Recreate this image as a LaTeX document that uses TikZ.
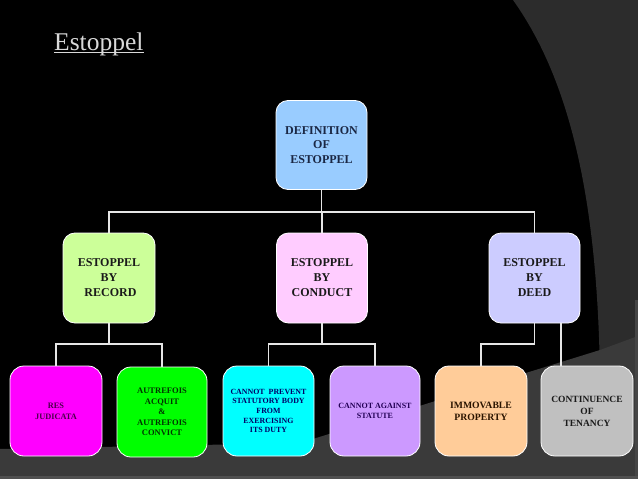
\documentclass[tikz,border=0pt]{standalone}
\usepackage{fontspec}
\setmainfont{Liberation Serif}
\definecolor{bandgray}{HTML}{3A3A3A}
\definecolor{rightgray}{HTML}{2C2C2C}
\definecolor{stripgray}{HTML}{454545}
\definecolor{bottomgray}{HTML}{505050}
\definecolor{titlegray}{HTML}{D9D9D9}
\definecolor{linegray}{HTML}{E6E6E6}
\definecolor{defblue}{HTML}{99CCFF}
\definecolor{recgreen}{HTML}{CCFF99}
\definecolor{conpink}{HTML}{FFCCFF}
\definecolor{deedblue}{HTML}{CCCCFF}
\definecolor{resmag}{HTML}{FF00FF}
\definecolor{autgreen}{HTML}{00FF00}
\definecolor{prevcyan}{HTML}{00FFFF}
\definecolor{statpurple}{HTML}{CC99FF}
\definecolor{immorange}{HTML}{FFCC99}
\definecolor{contgray}{HTML}{C0C0C0}
\definecolor{navytext}{HTML}{1A2744}
\definecolor{darktext}{HTML}{1A1A1A}
\definecolor{restext}{HTML}{4A004A}
\definecolor{auttext}{HTML}{003300}
\definecolor{prevtext}{HTML}{000066}
\definecolor{stattext}{HTML}{220055}
\definecolor{immtext}{HTML}{2A1400}
\tikzset{
  nbox/.style={draw=white, line width=0.8pt, rounded corners=12pt,
    minimum width=91pt, minimum height=89pt, align=center, inner sep=1pt},
  lvtwo/.style={nbox, font=\bfseries\fontsize{12}{15}\selectfont},
  lvthree/.style={nbox, minimum width=92pt, minimum height=90pt, rounded corners=14pt,
    font=\bfseries\fontsize{8}{10.2}\selectfont},
  conn/.style={draw=linegray, line width=1.8pt},
}
\begin{document}
\begin{tikzpicture}[x=1pt,y=-1pt]
\useasboundingbox (0,0) rectangle (638,479);
% background
\fill[black] (0,0) rectangle (638,479);
\fill[rightgray] (513,0) .. controls (570,80) and (598,200) .. (600,380) -- (600,479) -- (638,479) -- (638,0) -- cycle;
\fill[bandgray] (0,449) -- (300,443) -- (600,350) -- (638,336) -- (638,479) -- (0,479) -- cycle;
\fill[stripgray] (635,300) rectangle (638,479);
\fill[bottomgray] (0,476) rectangle (638,479);
% title
\node[anchor=base west, inner sep=0pt, text=titlegray, font=\fontsize{25.5}{30}\selectfont] (title) at (54,50) {Estoppel};
\draw[titlegray, line width=1.3pt] ([yshift=-2.5pt]title.base west) -- ([yshift=-2.5pt]title.base east);
% level 1
\node[lvtwo, fill=defblue, text=navytext, font=\bfseries\fontsize{12}{14.5}\selectfont] (def) at (321.5,145) {DEFINITION\\OF\\ESTOPPEL};
% level 2
\node[lvtwo, fill=recgreen, text=darktext, minimum width=92pt, minimum height=90pt] (rec) at (109,278) {ESTOPPEL\\BY\\\hspace*{3pt}RECORD};
\node[lvtwo, fill=conpink, text=darktext, minimum height=90pt] (con) at (322,278) {ESTOPPEL\\BY\\CONDUCT};
\node[lvtwo, fill=deedblue, text=darktext, minimum height=90pt] (deed) at (534.5,278) {ESTOPPEL\\BY\\DEED};
% level 3
\node[lvthree, fill=resmag, text=restext, font=\bfseries\fontsize{8.3}{11}\selectfont] (res) at (56,411) {RES\\JUDICATA};
\node[lvthree, fill=autgreen, text=auttext, minimum width=90pt, font=\bfseries\fontsize{8.5}{10.4}\selectfont] (aut) at (162,412) {AUTREFOIS\\ACQUIT\\\&\\AUTREFOIS\\CONVICT};
\node[lvthree, fill=prevcyan, text=prevtext, minimum width=91pt, font=\bfseries\fontsize{7.9}{9.6}\selectfont] (prev) at (268.5,411) {CANNOT\ \ PREVENT\\STATUTORY BODY\\FROM\\EXERCISING\\ITS DUTY};
\node[lvthree, fill=statpurple, text=stattext, minimum width=90pt, font=\bfseries\fontsize{8}{10.2}\selectfont] (stat) at (375,411) {CANNOT AGAINST\\STATUTE};
\node[lvthree, fill=immorange, text=immtext, font=\bfseries\fontsize{9.7}{12}\selectfont] (imm) at (481,411) {IMMOVABLE\\PROPERTY};
\node[lvthree, fill=contgray, text=darktext, font=\bfseries\fontsize{9.5}{12}\selectfont] (cont) at (587,411) {CONTINUENCE\\OF\\TENANCY};
% junctions
\coordinate (j1) at (321.5,212);
\coordinate (j2) at (109,344);
\coordinate (j3) at (322,344);
\coordinate (j4) at (534.5,344);
% connectors
\draw[conn] (def.south) -- (j1);
\draw[conn] (rec.north) |- (j1);
\draw[conn] (deed.north) |- (j1);
\draw[conn] (con.north) -- (con.north |- j1);
\draw[conn] (rec.south) -- (j2);
\draw[conn] (res.north) |- (j2);
\draw[conn] (aut.north) |- (j2);
\draw[conn] (con.south) -- (j3);
\draw[conn] (prev.north) |- (j3);
\draw[conn] (stat.north) |- (j3);
\draw[conn] (deed.south) -- (j4);
\draw[conn] (imm.north) |- (j4);
\draw[conn] ([xshift=26.5pt]deed.south) -- ([xshift=-26pt]cont.north);
\end{tikzpicture}
\end{document}
